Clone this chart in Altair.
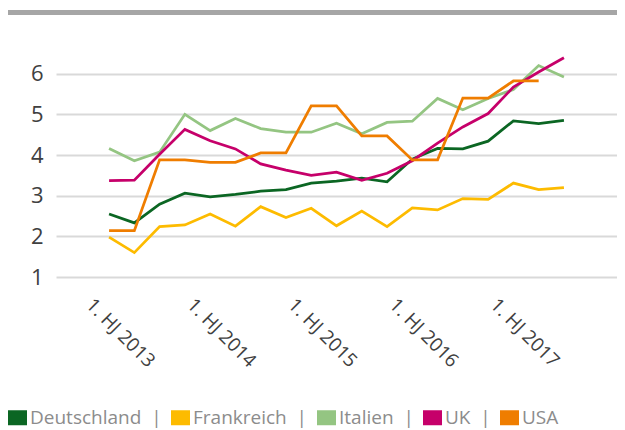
import json
import altair as alt
import pandas as pd

countries = ["Deutschland", "Frankreich", "Italien", "UK", "USA"]
colors = ["#0b6623", "#fdbb00", "#94c582", "#c6006a", "#ef7d00"]

tick_labels = ["1. HJ 2013", "1. HJ 2014", "1. HJ 2015", "1. HJ 2016", "1. HJ 2017"]

deutschland = [2.55, 2.33, 2.79, 3.06, 2.97, 3.03, 3.11, 3.15, 3.31, 3.36,
               3.43, 3.34, 3.90, 4.16, 4.15, 4.34, 4.84, 4.77, 4.85]
frankreich = [1.98, 1.60, 2.24, 2.28, 2.55, 2.25, 2.73, 2.46, 2.69, 2.26,
              2.62, 2.24, 2.70, 2.65, 2.93, 2.91, 3.31, 3.15, 3.20]
italien = [4.16, 3.86, 4.07, 5.00, 4.60, 4.90, 4.65, 4.56, 4.56, 4.78,
           4.52, 4.80, 4.83, 5.39, 5.11, 5.39, 5.61, 6.20, 5.92]
uk = [3.37, 3.38, 4.02, 4.63, 4.35, 4.15, 3.78, 3.63, 3.50, 3.58,
      3.38, 3.55, 3.86, 4.29, 4.69, 5.02, 5.67, 6.04, 6.39]
usa = [2.14, 2.14, 3.88, 3.88, 3.82, 3.82, 4.05, 4.05, 5.21, 5.21,
       4.47, 4.47, 3.88, 3.88, 5.40, 5.40, 5.82, 5.82, None]

series = {"Deutschland": deutschland, "Frankreich": frankreich,
          "Italien": italien, "UK": uk, "USA": usa}

rows = []
for name in countries:
    for i, v in enumerate(series[name]):
        if v is not None:
            rows.append({"land": name, "i": i, "wert": v})
df = pd.DataFrame(rows)

FONT = "Open Sans"
label_expr = json.dumps(tick_labels) + "[datum.value / 4]"
sep = "\u00a0 |"
legend_expr = ("datum.label == '" + countries[-1] + "' ? datum.label : datum.label + '" + sep + "'")

lines = alt.Chart(df).mark_line(strokeWidth=2.75).encode(
    x=alt.X("i:Q",
            scale=alt.Scale(domain=[-2.1, 20.1], nice=False, zero=False),
            axis=alt.Axis(values=[0, 4, 8, 12, 16], labelExpr=label_expr,
                          labelAngle=45, labelAlign="left", labelBaseline="top",
                          labelPadding=18, labelOffset=-14,
                          grid=False, ticks=False, domain=False, title=None,
                          labelFont=FONT, labelFontSize=19, labelColor="#404040")),
    y=alt.Y("wert:Q",
            scale=alt.Scale(domain=[1, 7], nice=False, zero=False),
            axis=alt.Axis(values=[1, 2, 3, 4, 5, 6], grid=True, gridColor="#d9d9d9",
                          gridWidth=2, ticks=False, domain=False, title=None,
                          labelPadding=13, labelFont=FONT, labelFontSize=22,
                          labelColor="#404040")),
    color=alt.Color("land:N",
                    scale=alt.Scale(domain=countries, range=colors),
                    legend=alt.Legend(orient="none", legendX=-48, legendY=375,
                                      direction="horizontal", title=None,
                                      symbolType="M-1,-0.6H1V0.6H-1Z", symbolSize=100,
                                      symbolStrokeWidth=9, symbolOpacity=1,
                                      labelFont=FONT, labelFontSize=19, labelLimit=300,
                                      labelColor="#8c8c8c", labelOffset=3,
                                      columnPadding=-5,
                                      labelExpr=legend_expr)),
    detail="land:N",
)

bar = alt.Chart(pd.DataFrame({"a": [0]})).mark_rule(color="#a6a6a6", strokeWidth=5).encode(
    x=alt.value(-48), x2=alt.value(561), y=alt.value(-20.5)
)

chart = alt.layer(bar, lines).properties(
    width=561, height=244,
    autosize=alt.AutoSizeParams(type="none"),
    padding={"left": 48, "top": 25, "right": 0, "bottom": 153},
).configure(font=FONT).configure_view(stroke=None)

chart.save("out.html", embed_options={"renderer": "svg", "actions": False})
